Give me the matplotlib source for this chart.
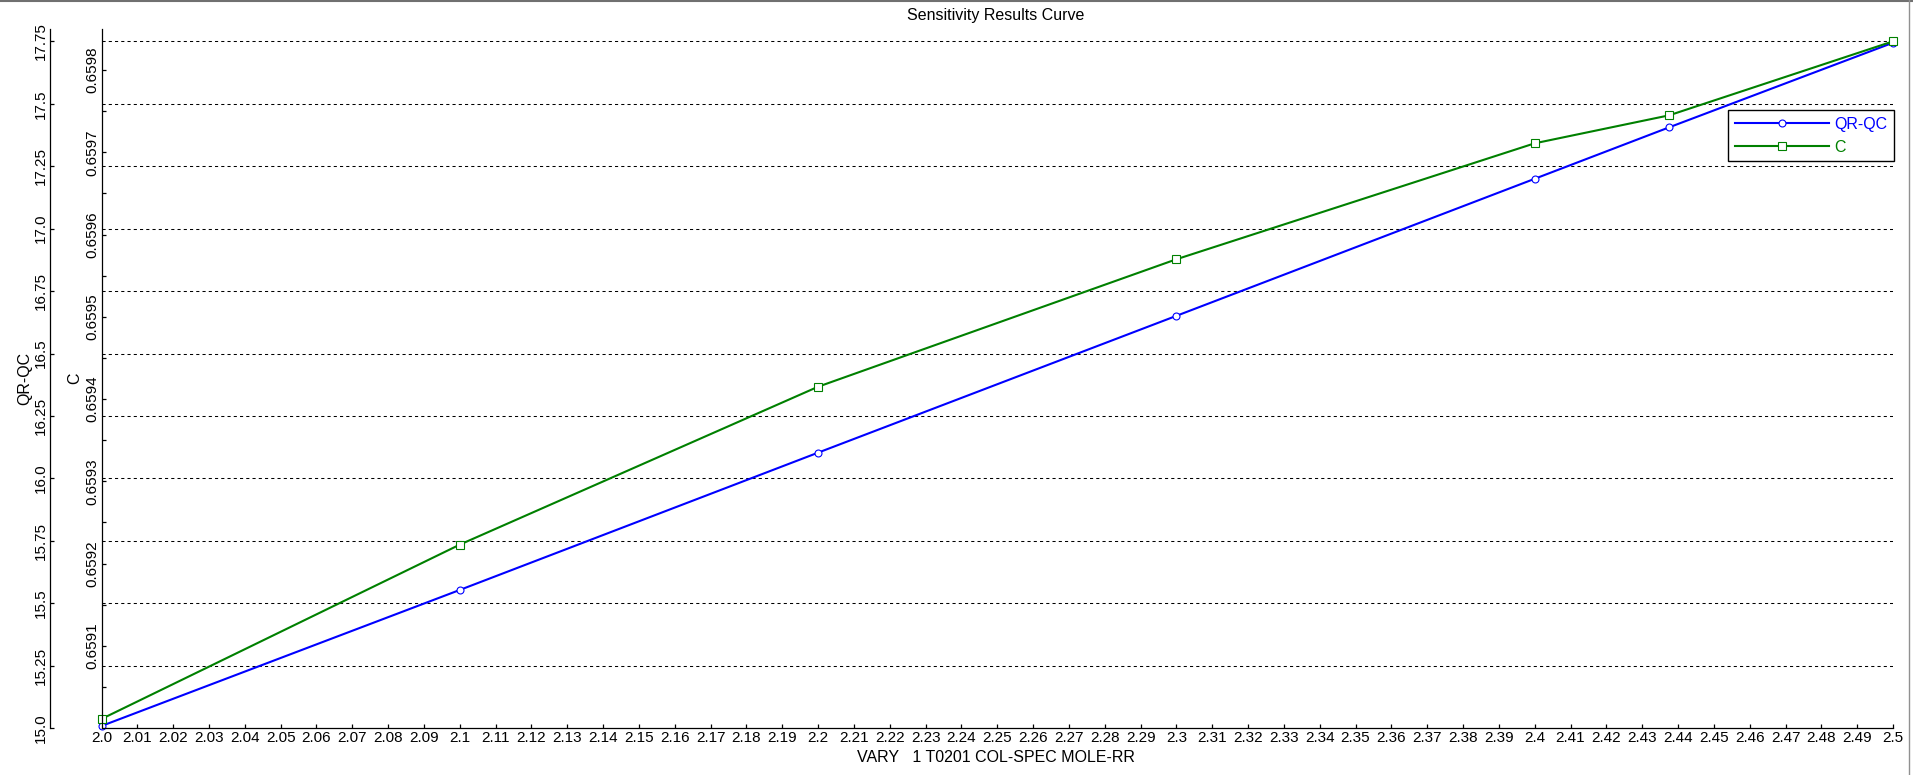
import numpy as np
import matplotlib
matplotlib.use("Agg")
import matplotlib.pyplot as plt
from matplotlib.lines import Line2D

plt.rcParams['font.family'] = ['Liberation Sans', 'DejaVu Sans']

# ---- data ----
vary_x = [2.0, 2.1, 2.2, 2.3, 2.4, 2.4375, 2.5]
qr_qc = [15.008, 15.553, 16.103, 16.651, 17.200, 17.406, 17.745]
c_vals = [0.659011, 0.659223, 0.659415, 0.659570, 0.659711, 0.659745, 0.659835]

title = "Sensitivity Results Curve"
x_label = "VARY   1 T0201 COL-SPEC MOLE-RR"
series_names = ["QR-QC", "C"]

x_ticks = [round(2.0 + 0.01 * i, 2) for i in range(51)]
qr_ticks = [15.0, 15.25, 15.5, 15.75, 16.0, 16.25, 16.5, 16.75, 17.0, 17.25, 17.5, 17.75]
c_ticks = [0.6591, 0.6592, 0.6593, 0.6594, 0.6595, 0.6596, 0.6597, 0.6598]
c_minor = [0.65905, 0.65915, 0.65925, 0.65935, 0.65945, 0.65955, 0.65965, 0.65975]


def fmt(v, nd):
    s = f"{v:.{nd}f}".rstrip('0')
    if s.endswith('.'):
        s += '0'
    return s


x_tick_labels = [fmt(v, 2) for v in x_ticks]
qr_tick_labels = [fmt(v, 2) for v in qr_ticks]
c_tick_labels = [f"{v:.4f}" for v in c_ticks]

W, H = 1913, 775
fig = plt.figure(figsize=(W / 100, H / 100), dpi=100)
L, R, B, T = 101.5 / W, 1893 / W, 1 - 728 / H, 1 - 29 / H
ax_q = fig.add_axes([L, B, R - L, T - B])
ax_c = ax_q.twinx()

BLUE = '#0000ff'
GREEN = '#008000'

lq, = ax_q.plot(vary_x, qr_qc, color=BLUE, lw=1.5, marker='o', ms=5,
                mfc='white', mec=BLUE, mew=0.8, label=series_names[0], clip_on=False)
lc, = ax_c.plot(vary_x, c_vals, color=GREEN, lw=1.5, marker='s', ms=5.2,
                mfc='white', mec=GREEN, mew=0.8, label=series_names[1], clip_on=False)

ax_q.set_xlim(2.0, 2.5)
ax_q.set_ylim(15.0, 17.80)
ax_c.set_ylim(0.6590, 0.65985)

# grid
for v in qr_ticks[1:]:
    ax_q.axhline(v, color='black', lw=0.75, ls=(0, (3, 3)), zorder=0.5)

# spines
for a in (ax_q, ax_c):
    a.spines['top'].set_visible(False)
    a.spines['right'].set_visible(False)
    a.patch.set_visible(False)
ax_c.spines['bottom'].set_visible(False)
ax_q.spines['left'].set_position(('outward', 37.4))
ax_c.spines['left'].set_visible(True)
ax_c.spines['left'].set_position(('outward', 0))
for a in (ax_q, ax_c):
    for s in a.spines.values():
        s.set_linewidth(0.9)

ax_c.yaxis.set_ticks_position('left')
ax_c.yaxis.set_label_position('left')

# x ticks
ax_q.set_xticks(x_ticks, x_tick_labels, fontsize=11)
ax_q.tick_params(axis='x', direction='in', length=3, width=0.9, pad=2.5)

# qr y ticks
ax_q.set_yticks(qr_ticks, qr_tick_labels, fontsize=11, rotation=90, va='center')
ax_q.tick_params(axis='y', direction='in', length=3, width=0.9, pad=1)

# c y ticks
ax_c.set_yticks(c_ticks, c_tick_labels, fontsize=11, rotation=90, va='center')
ax_c.set_yticks(c_minor, minor=True)
ax_c.tick_params(axis='y', which='both', direction='in', length=3, width=0.9, pad=1.5,
                 left=True, right=False, labelleft=True, labelright=False)

# labels
fig.text(25 / W, 1 - 378 / H, "QR-QC", rotation=90, ha='center', va='center', fontsize=11.5)
fig.text(75 / W, 1 - 378 / H, "C", rotation=90, ha='center', va='center', fontsize=11.5)
fig.text(996 / W, 1 - 15.7 / H, title, ha='center', va='center', fontsize=11.5)
fig.text(996 / W, 1 - 757.7 / H, x_label, ha='center', va='center', fontsize=11.5)

# legend
leg = ax_c.legend([lq, lc], series_names, loc='upper left',
                  bbox_to_anchor=(1728.3 / W, 1 - 110.3 / H), bbox_transform=fig.transFigure,
                  fontsize=11.5, frameon=True, fancybox=False, framealpha=1,
                  edgecolor='black', borderpad=0.4, handlelength=5.9,
                  handletextpad=0.33, labelspacing=0.5, numpoints=1,
                  labelcolor='linecolor', borderaxespad=0)
leg.get_frame().set_linewidth(1.0)

# window frame lines
fig.add_artist(Line2D([0, 1], [1 - 0.8 / H, 1 - 0.8 / H], transform=fig.transFigure,
                      color='#707070', lw=1.5))
fig.add_artist(Line2D([1909 / W, 1909 / W], [0, 1], transform=fig.transFigure,
                      color='#909090', lw=1.0))

fig.savefig("out.png", dpi=100)
